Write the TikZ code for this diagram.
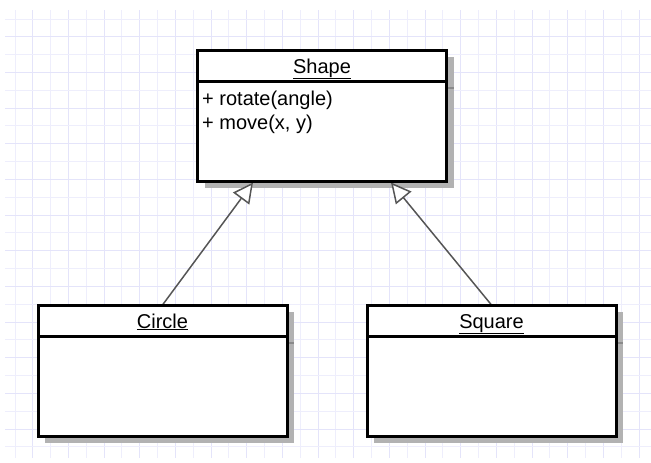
\documentclass[tikz,border=0pt]{standalone}
\usepackage{fontspec}
\setmainfont{Liberation Sans}
\usetikzlibrary{arrows.meta,calc}
\definecolor{gridc}{HTML}{EEEEFC}
\definecolor{gridm}{HTML}{E4E4FA}
\definecolor{shadowc}{HTML}{B2B2B2}
\definecolor{shadowl}{HTML}{8A8A8A}
\definecolor{lnc}{HTML}{555555}
\begin{document}
\begin{tikzpicture}[x=1pt,y=-1pt,
  umlbox/.style={draw=black, line width=3pt, fill=white, rectangle, outer sep=0pt, inner sep=0pt, minimum width=249pt, minimum height=131pt},
  shadowfill/.style={fill=shadowc},
  shadowsep/.style={draw=shadowl, line width=2pt},
  seprule/.style={draw=black, line width=3pt},
  title/.style={font=\fontsize{20}{24}\selectfont, inner sep=0pt, anchor=base},
  method/.style={font=\fontsize{20}{24}\selectfont, anchor=base west, inner sep=0pt},
  inherit/.style={draw=lnc, line width=1.5pt, line join=miter, -{Triangle[length=20pt,width=20pt,fill=white]}}]
\useasboundingbox (0,0) rectangle (651,463);
% grid
\foreach \i in {0,...,35} {
  \pgfmathsetmacro{\gx}{15+17.83*\i}
  \ifodd\i \draw[gridm, line width=1pt] (\gx,10) -- (\gx,458);
  \else \draw[gridc, line width=1pt] (\gx,10) -- (\gx,458); \fi
}
\foreach \j in {0,...,24} {
  \pgfmathsetmacro{\gy}{19+17.83*\j}
  \ifodd\j \draw[gridm, line width=1pt] (5,\gy) -- (651,\gy);
  \else \draw[gridc, line width=1pt] (5,\gy) -- (651,\gy); \fi
}
% boxes (positions)
\path (322,115.5) node[umlbox, draw=none, fill=none] (shapeP) {};
\path (162.5,370.5) node[umlbox, draw=none, fill=none] (circleP) {};
\path (491.5,370.5) node[umlbox, draw=none, fill=none] (squareP) {};
% shadows
\foreach \b in {shapeP,circleP,squareP} {
  \fill[shadowfill] ($(\b.north west)+(7,7)$) rectangle ($(\b.south east)+(7,7)$);
  \draw[shadowsep] ($(\b.north west)+(7,38)$) -- ($(\b.north east)+(7,38)$);
}
% connectors
\coordinate (tipL) at ($(shapeP.south)+(-69,1.5)$);
\coordinate (tipR) at ($(shapeP.south)+(69,1.5)$);
\draw[inherit] (circleP.north) -- (tipL);
\draw[inherit] (squareP.north) -- (tipR);
% boxes
\node[umlbox] (shape) at (shapeP) {};
\node[umlbox] (circle) at (circleP) {};
\node[umlbox] (square) at (squareP) {};
\foreach \b in {shape,circle,square} {
  \draw[seprule] ($(\b.north west)+(0,31)$) -- ($(\b.north east)+(0,31)$);
}
% texts
\node[title] (shapeT) at ($(shape.north)+(0,23)$) {\underline{Shape}};
\node[title] (circleT) at ($(circle.north)+(0,23)$) {\underline{Circle}};
\node[title] (squareT) at ($(square.north)+(0,23)$) {\underline{Square}};
\node[method] (m1) at ($(shape.north west)+(4.5,55)$) {+ rotate(angle)};
\node[method] (m2) at ($(shape.north west)+(4.5,79)$) {+ move(x, y)};
\end{tikzpicture}
\end{document}
